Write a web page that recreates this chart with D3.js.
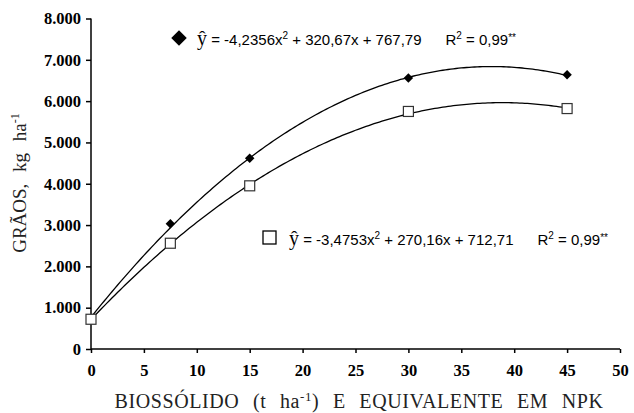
<!DOCTYPE html>
<html><head><meta charset="utf-8">
<script src="https://cdn.jsdelivr.net/npm/d3@7"></script>
<style>body{margin:0;background:#fff}svg{display:block}</style>
</head><body><svg id="c" width="634" height="413"></svg>
<script>
const doses = [0, 7.5, 15, 30, 45];
const biossolido = [720, 3030, 4620, 6560, 6640];
const npk = [720, 2560, 3950, 5750, 5820];
const coefBio = [-4.2356, 320.67, 767.79];
const coefNpk = [-3.4753, 270.16, 712.71];
const xTicks = [0,5,10,15,20,25,30,35,40,45,50];
const yTicks = [0,1000,2000,3000,4000,5000,6000,7000,8000];

const svg = d3.select("#c");
const x = d3.scaleLinear().domain([0,50]).range([91,620]);
const y = d3.scaleLinear().domain([0,8000]).range([349,18.5]);
const fmt = v => d3.format(",")(v).replace(/,/g,".");
const serif = "Liberation Serif, serif";
const sans = "Liberation Sans, sans-serif";

const xa = svg.append("g").attr("transform","translate(0,349)")
  .call(d3.axisBottom(x).tickValues(xTicks).tickSize(4).tickPadding(11).tickFormat(d3.format("d")));
const ya = svg.append("g").attr("transform","translate(91,0)")
  .call(d3.axisLeft(y).tickValues(yTicks).tickSize(5).tickPadding(5).tickFormat(fmt));
[xa,ya].forEach(a=>{
  a.attr("font-family",null).attr("font-size",null);
  a.selectAll("path,line").attr("stroke","#000").attr("stroke-width",1.5);
  a.selectAll("text").style("font-family",serif).style("font-size","16.5px").style("font-weight","bold").attr("fill","#000");
});
ya.select(".domain").attr("d","M0,18.5V349");
xa.select(".domain").attr("d","M91,0H620");

function curve(c){
  const pts = d3.range(0,45.01,0.25).map(t=>[t, c[0]*t*t + c[1]*t + c[2]]);
  return d3.line().x(d=>x(d[0])).y(d=>y(d[1]))(pts);
}
svg.append("path").attr("d",curve(coefBio)).attr("fill","none").attr("stroke","#000").attr("stroke-width",1.3);
svg.append("path").attr("d",curve(coefNpk)).attr("fill","none").attr("stroke","#000").attr("stroke-width",1.3);

svg.selectAll("path.dm").data(doses.map((d,i)=>[d,biossolido[i]])).join("path").attr("class","dm")
  .attr("d", d3.symbol().type(d3.symbolSquare).size(45))
  .attr("transform", d=>`translate(${x(d[0])},${y(d[1])}) rotate(45)`).attr("fill","#000");
svg.selectAll("rect.sq").data(doses.map((d,i)=>[d,npk[i]])).join("rect").attr("class","sq")
  .attr("x", d=>x(d[0])-5).attr("y", d=>y(d[1])-5).attr("width",10).attr("height",10)
  .attr("fill","#fff").attr("stroke","#333").attr("stroke-width",1.2);

// legends
svg.append("path").attr("d", d3.symbol().type(d3.symbolSquare).size(120))
  .attr("transform","translate(179,38) rotate(45)").attr("fill","#000");
svg.append("rect").attr("x",263).attr("y",231).attr("width",13).attr("height",13)
  .attr("fill","#fff").attr("stroke","#000").attr("stroke-width",1.3);

function eq(tx, ty, a, b, c, gap){
  const t = svg.append("text").attr("x",tx).attr("y",ty).style("font-family",sans).style("font-size","15px").attr("fill","#000");
  t.append("tspan").style("font-family",serif).style("font-size","20px").text("ŷ");
  t.append("tspan").text(` = ${a}x`);
  t.append("tspan").style("font-size","10px").attr("dy",-6).text("2");
  t.append("tspan").attr("dy",6).text(` + ${b}x + ${c}`);
  t.append("tspan").attr("dx",gap).text("R");
  t.append("tspan").style("font-size","10px").attr("dy",-6).text("2");
  t.append("tspan").attr("dy",6).text(" = 0,99");
  t.append("tspan").style("font-size","10px").attr("dy",-4).text("**");
}
eq(197, 45, "-4,2356", "320,67", "767,79", 24);
eq(289, 245, "-3,4753", "270,16", "712,71", 24);

// axis titles
const xl = svg.append("text").attr("x",359).attr("y",408).attr("text-anchor","middle")
  .style("font-family",serif).style("font-size","20px").style("word-spacing","8px").style("letter-spacing","0.6px").attr("fill","#222");
xl.append("tspan").text("BIOSSÓLIDO (t ha");
xl.append("tspan").style("font-size","13px").attr("dy",-7).text("-1");
xl.append("tspan").attr("dy",7).text(") E EQUIVALENTE EM NPK");

const yl = svg.append("text").attr("transform","translate(26,183) rotate(-90)").attr("text-anchor","middle")
  .style("font-family",serif).style("font-size","19px").style("word-spacing","7px").attr("fill","#222");
yl.append("tspan").text("GRÃOS, kg ha");
yl.append("tspan").style("font-size","12px").attr("dy",-7).text("-1");
</script></body></html>
